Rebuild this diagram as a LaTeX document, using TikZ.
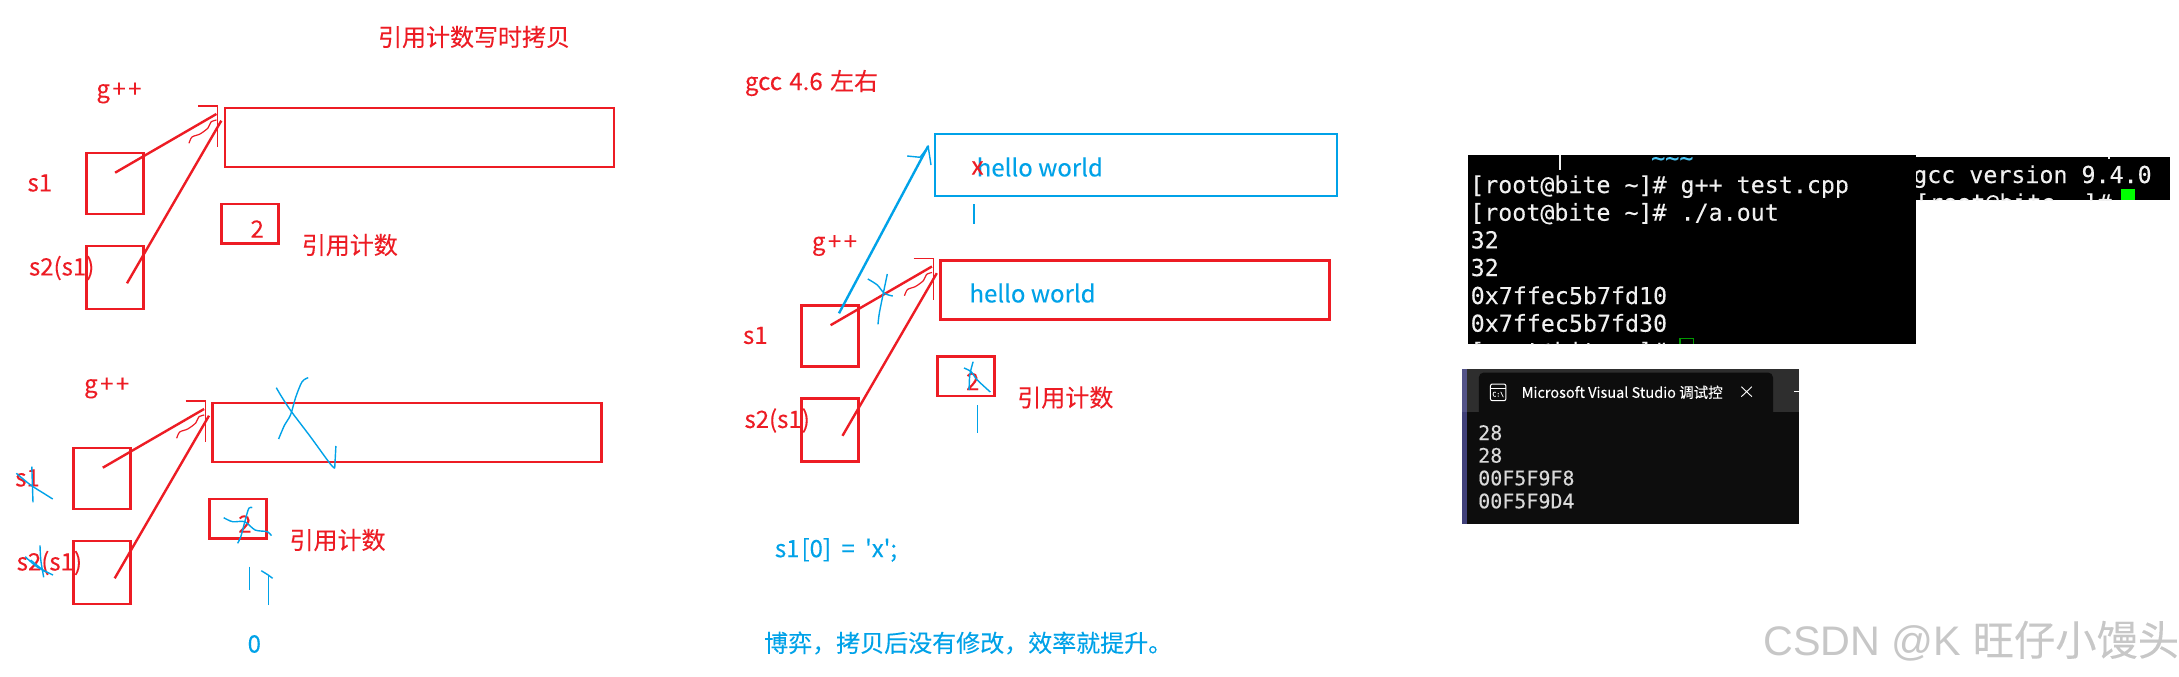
\documentclass[tikz,border=0pt]{standalone}
\usepackage{fontspec}
\usepackage{graphicx}
\newfontfamily\cjk[FakeBold=0.12]{Noto Sans CJK SC}
\newfontfamily\termfont[FakeBold=0.15]{DejaVu Sans Mono}
\newfontfamily\wmfont{Liberation Sans}
\definecolor{pred}{HTML}{ED1C24}
\definecolor{pblue}{HTML}{00A2E8}
\definecolor{termw}{HTML}{F0F0F0}
\tikzset{
  x=1pt,y=-1pt,
  redbox/.style={draw=pred,line width=2.9pt,inner sep=0pt,outer sep=0pt},
  bluebox/.style={draw=pblue,line width=2.9pt,inner sep=0pt,outer sep=0pt},
  redtext/.style={text=pred,inner sep=0pt,font=\cjk\fontsize{24}{28}\selectfont},
  bluetext/.style={text=pblue,inner sep=0pt,font=\cjk\fontsize{24}{28}\selectfont},
  redline/.style={draw=pred,line width=2.4pt},
  thinred/.style={draw=pred,line width=1.2pt},
  bluescr/.style={draw=pblue,line width=1.4pt},
  bluethick/.style={draw=pblue,line width=2.4pt},
  termtext/.style={text=termw,inner sep=0pt,anchor=base west,font=\termfont\fontsize{23.3}{27}\selectfont},
  vstext/.style={text=white!85!black,inner sep=0pt,anchor=base west,font=\termfont\fontsize{20}{23}\selectfont},
  cowgroup/.pic={
    \node[redbox,minimum width=389pt,minimum height=59pt] (big) at (419.5,137.5) {};
    \node[redbox,minimum width=57pt,minimum height=61pt] (sa) at (114.6,183.5) {};
    \node[redbox,minimum width=57pt,minimum height=63pt] (sb) at (114.6,277.5) {};
    \node[redbox,minimum width=56.7pt,minimum height=39.5pt] (cnt) at (250.2,223.7) {};
    \node[redtext] (lg) at (119,93) {g{\kern2.5pt}+{\kern2.5pt}+};
    \node[redtext] (la) at (39.8,183) {s1};
    \node[redtext] (lb) at (61.7,268) {s2(s1)};
    \node[redtext] (lt) at (257.2,229) {2};
    \node[redtext] (lc) at (349.8,245) {引用计数};
    \coordinate (a0) at (115.1,172.7);
    \coordinate (a1) at (216.4,114);
    \coordinate (b0) at (127,283.3);
    \coordinate (b1) at (221.3,120.7);
    \coordinate (h0) at (198,106);
    \coordinate (h1) at (217.6,106);
    \coordinate (h2) at (217.6,147);
    \draw[redline] (a0) -- (a1);
    \draw[redline] (b0) -- (b1);
    \draw[thinred] (h0) -- (h1) -- (h2);
    \draw[thinred] plot[smooth] coordinates {(189,143.3) (192,137) (200,134) (208,128) (211,122) (216.5,120)};
  }
}
\begin{document}
\begin{tikzpicture}
\useasboundingbox (0,0) rectangle (2179,677);
\fill[white] (0,0) rectangle (2179,677);

% three sketch groups
\pic (top) at (0,0) {cowgroup};
\pic (low) at (-12.3,295) {cowgroup};
\pic (mid) at (715.5,152.5) {cowgroup};

\node[redtext] (title) at (474,37) {引用计数写时拷贝};
\node[redtext] (gcc) at (811.5,83) {gcc{\kern2pt} 4.6{\kern2pt} 左右};

% lower group strokes
\draw[bluescr] plot[smooth] coordinates {(276.3,387.7) (281.6,396.7) (291.5,411.7) (310.4,436.7) (329.8,463.3) (334.7,468.3)};
\draw[bluescr] (334.7,468.3) -- (335.9,446);
\draw[bluescr] plot[smooth] coordinates {(308.2,377.7) (302.1,381.7) (295.9,396.7) (290.5,415) (284.6,425) (278.6,439)};
\draw[bluescr] plot[smooth] coordinates {(16.3,473.3) (30.6,485) (44.8,494) (52.7,499)};
\draw[bluescr] (31.8,466.7) -- (33,502.3);
\draw[bluescr] plot[smooth] coordinates {(25.3,556.7) (36.8,566.7) (53,575)};
\draw[bluescr] (30.6,560) -- (44.8,571.7);
\draw[bluescr] plot[smooth] coordinates {(40,545.3) (40.8,560) (43.7,577.3)};
\draw[bluescr] plot[smooth] coordinates {(223.7,517.7) (232.6,521.7) (244.8,521.7) (255.1,530) (267.4,531.7) (271.4,535.7)};
\draw[bluescr] plot[smooth] coordinates {(252.2,507.7) (248.8,508.3) (244.8,521.7) (240.8,536.7) (237.6,543.3)};
\coordinate (lowt0) at (249.7,566.7);
\coordinate (lowt1) at (249.7,590);
\draw[bluescr] (lowt0) -- (lowt1);
\draw[bluescr] (268.2,605) -- (268.2,575);
\draw[bluescr] (261.3,570.7) -- (268.2,575) -- (272.6,578.3);
\node[bluetext] (zero) at (254.3,644) {0};

% middle group
\node[bluebox,minimum width=402pt,minimum height=62pt] (copybox) at (1136,165) {};
\node[bluetext] (hw1) at (1039.8,167) {hello world};
\node[bluetext] (hw2) at (1032.5,293) {hello world};
\node[text=pred,inner sep=0pt,font=\cjk\fontsize{24}{28}\selectfont] (xmark) at (977.5,168) {x};
\coordinate (ba0) at (839,313.3);
\coordinate (ba1) at (928.2,146);
\draw[bluethick] (ba0) -- (ba1);
\draw[bluescr] (907.2,156) -- (920,157.3) -- (928.2,146.7) -- (931,165);
\draw[bluescr] (974,204) -- (974,224);
\draw[bluescr] plot[smooth] coordinates {(867.8,279) (877.3,285) (884.3,293.3) (892.8,296)};
\draw[bluescr] plot[smooth] coordinates {(887.3,274) (883.3,293.3) (879.3,313.3) (878,324.3)};
\draw[bluescr] plot[smooth] coordinates {(964,368) (971.1,371.7) (977.3,380) (990.3,392)};
\draw[bluescr] plot[smooth] coordinates {(973.1,361.7) (969.8,375) (969.1,390)};
\draw[bluescr] (977.3,405) -- (977.3,433.3);
\node[bluetext] (code) at (836,550) {s1{\kern2pt}[0]{\kern5pt} ={\kern5pt} 'x';};
\node[bluetext,anchor=west] (note) at (764,643) {博弈，拷贝后没有修改，效率就提升。};

% terminal 1
\fill[black] (1468.2,155) rectangle (1916,344);
\begin{scope}
  \clip (1468.2,155) rectangle (1916,344);
  \node[termtext,text=cyan!70!white] (tilde) at (1651,166) {\textasciitilde\textasciitilde\textasciitilde};
  \draw[termw,line width=1.2pt] (1560,155) -- (1560,170);
  \node[termtext] (t1) at (1470,193) {[root@bite \textasciitilde]\# g++ test.cpp};
  \node[termtext] (t2) at (1470,220.7) {[root@bite \textasciitilde]\# ./a.out};
  \node[termtext] (t3) at (1470.5,248.3) {32};
  \node[termtext] (t4) at (1470.5,276) {32};
  \node[termtext] (t5) at (1470.5,304) {0x7ffec5b7fd10};
  \node[termtext] (t6) at (1470.5,331.7) {0x7ffec5b7fd30};
  \node[termtext] (t7) at (1470,359.5) {[root@bite \textasciitilde]\#};
  \draw[green!60!black,line width=1.2pt] (1680,344) -- (1680,338.5) -- (1693.5,338.5) -- (1693.5,344);
\end{scope}

% terminal 2
\fill[black] (1916,156.7) rectangle (2170.4,200);
\begin{scope}
  \clip (1916,156.7) rectangle (2170.4,200);
  \draw[termw,line width=1.2pt] (2109,156.7) -- (2109,159);
  \node[termtext,anchor=base west] (v1) at (1913,183) {gcc version 9.4.0 (};
  \node[termtext,anchor=base west] (v2) at (1915,211) {[root@bite \textasciitilde]\#};
  \fill[green] (2121,189) rectangle (2135,200);
\end{scope}

% VS console
\fill[black!82] (1462,369) rectangle (1798.6,411.7);
\fill[black!95] (1462,411.7) rectangle (1798.6,523.7);
\fill[black!40!blue!35!gray] (1462,369) rectangle (1466.7,411.7);
\fill[blue!30!black!75] (1462,411.7) rectangle (1466.7,523.7);
\fill[black!95,rounded corners=5pt] (1478.8,372.5) rectangle (1773,420);
\fill[black!95] (1466.7,411.7) rectangle (1798.6,425);
\draw[white,line width=1pt,rounded corners=2pt] (1490.4,384) rectangle (1505.9,400.7);
\draw[white,line width=1pt] (1490.4,388) -- (1505.9,388);
\node[text=white,inner sep=0pt,font=\termfont\fontsize{6.5}{7}\selectfont] (icon) at (1498.2,394.5) {C:\textbackslash};
\node[text=white,inner sep=0pt,anchor=west,font=\cjk\fontsize{16}{18}\selectfont] (vstitle) at (1521.5,392.3) {\resizebox{201pt}{!}{Microsoft Visual Studio 调试控}};
\draw[white,line width=.9pt] (1741.3,386.7) -- (1751.9,396.7) (1751.9,386.7) -- (1741.3,396.7);
\draw[white,line width=1pt] (1794.4,391.7) -- (1798.6,391.7);
\node[vstext] (d1) at (1478,440) {28};
\node[vstext] (d2) at (1478,462.7) {28};
\node[vstext] (d3) at (1478,485.3) {00F5F9F8};
\node[vstext] (d4) at (1478,508.3) {00F5F9D4};

% watermark
\node[text=black!22,inner sep=0pt,anchor=west,font=\wmfont\fontsize{41.3}{44}\selectfont] (wm) at (1763,641) {CSDN @K {\cjk 旺仔小馒头}};
\end{tikzpicture}
\end{document}
